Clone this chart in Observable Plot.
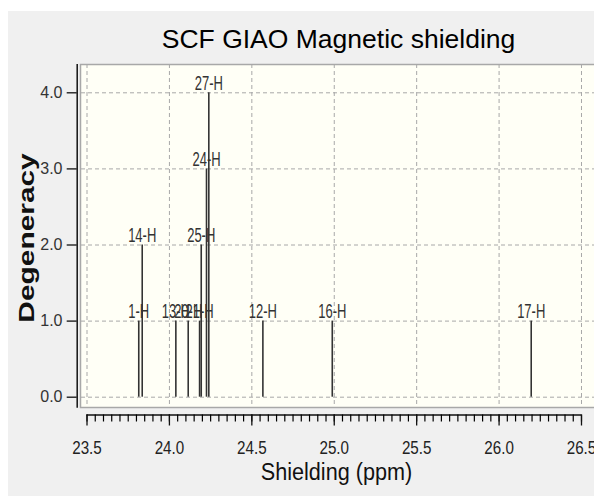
<!DOCTYPE html>
<html><head><meta charset="utf-8">
<script src="https://cdn.jsdelivr.net/npm/d3@7"></script>
<script src="https://cdn.jsdelivr.net/npm/@observablehq/plot@0.6"></script>
<style>
html,body{margin:0;padding:0;background:#fff;}
#chart{position:relative;width:594px;height:496px;overflow:hidden;background:#fff;}
#bg{position:absolute;left:8px;top:11px;right:0;bottom:0;background:#f0f0f0;}
#chart svg{position:absolute;left:0;top:0;}
</style></head><body>
<div id="chart"><div id="bg"></div></div>
<script>
// ---- data ----
const peakLabels = ["1-H", "14-H", "13-H", "20-H", "21-H", "25-H", "24-H", "27-H", "12-H", "16-H", "17-H"];
const shielding  = [23.814, 23.835, 24.039, 24.114, 24.183, 24.193, 24.225, 24.239, 24.567, 24.988, 26.195];
const degeneracy = [1, 2, 1, 1, 1, 2, 3, 4, 1, 1, 1];
const xTickValues = [23.5, 24.0, 24.5, 25.0, 25.5, 26.0, 26.5];
const yTickValues = [0, 1, 2, 3, 4];
const titleText = "SCF GIAO Magnetic shielding";
const xLabelText = "Shielding (ppm)";
const yLabelText = "Degeneracy";

const peaks = peakLabels.map((label, i) => ({label, x: shielding[i], deg: degeneracy[i]}));
const minorTicks = d3.ticks(xTickValues[0], xTickValues[xTickValues.length - 1], 60);

const xDomain = [23.4405, 26.5789];
const yDomain = [-0.234, 4.372];
const gridStyle = {stroke: "#a8a8a8", strokeOpacity: 1, strokeDasharray: "4,3", strokeWidth: 1};

const plot = Plot.plot({
  width: 594, height: 496,
  marginLeft: 76.7, marginRight: 0, marginTop: 64, marginBottom: 81.5,
  style: {background: "transparent", fontFamily: "'Liberation Sans', Arial, sans-serif", overflow: "visible"},
  x: {domain: xDomain},
  y: {domain: yDomain},
  marks: [
    Plot.frame({fill: "#fffff6", stroke: "#a8a8a8", strokeWidth: 1.5, insetLeft: 3.3, insetBottom: 7.5, insetRight: -3}),
    Plot.gridX(xTickValues, {...gridStyle, insetBottom: 8.5}),
    Plot.gridY(yTickValues, {...gridStyle, insetLeft: 4.3}),
    Plot.ruleX(peaks, {x: "x", y1: 0, y2: "deg", stroke: "#333", strokeWidth: 1.6}),
    Plot.text(peaks, {x: "x", y: "deg", text: "label", lineAnchor: "bottom", dy: -3, fontSize: 20, fill: "#333", className: "peaklab"}),
    Plot.ruleX([xDomain[0]], {y1: 0, y2: yDomain[1], insetTop: 11, stroke: "#111", strokeWidth: 1.5}),
    Plot.axisY(yTickValues, {tickSize: 10, tickPadding: 4.7, tickFormat: d3.format(".1f"), label: null, fontSize: 16, fill: "#333", stroke: "#111", strokeWidth: 1.3}),
    Plot.ruleY([yDomain[0]], {x1: xTickValues[0], x2: xTickValues[xTickValues.length - 1], stroke: "#111", strokeWidth: 1.5}),
    Plot.axisX(minorTicks, {tickSize: 7, text: null, label: null, strokeWidth: 1.2}),
    Plot.axisX(xTickValues, {tickSize: 11, tickPadding: 14.5, tickFormat: d3.format(".1f"), label: null, fontSize: 18.5, fill: "#222", stroke: "#111", strokeWidth: 1.3}),
    Plot.text([titleText], {frameAnchor: "top", dx: 2.65, dy: -16.7, lineAnchor: "bottom", fontSize: 26.5, fill: "#000", className: "ttl"}),
    Plot.text([xLabelText], {frameAnchor: "bottom", lineAnchor: "top", dx: 0.6, dy: 48.8, fontSize: 23.5, fill: "#111", className: "xlab"}),
    Plot.text([yLabelText], {frameAnchor: "left", rotate: -90, dx: -50.8, dy: -1.75, lineAnchor: "middle", fontWeight: "bold", fontSize: 22.3, fill: "#111", className: "ylab"})
  ]
});
document.getElementById("chart").appendChild(plot);

// horizontally condense / stretch a text while keeping it centred on its anchor
function squeeze(selector, factor) {
  plot.querySelectorAll(selector).forEach(t => {
    const L = t.getComputedTextLength();
    const target = L * factor;
    t.setAttribute("text-anchor", "start");
    t.setAttribute("x", (-target / 2).toFixed(2));
    t.setAttribute("textLength", target.toFixed(2));
    t.setAttribute("lengthAdjust", "spacingAndGlyphs");
  });
}
squeeze('g.peaklab text', 0.65);
squeeze('g[aria-label="x-axis tick label"] text', 0.82);
squeeze('g.xlab text', 0.92);
squeeze('g.ylab text', 1.34);
</script>
</body></html>
